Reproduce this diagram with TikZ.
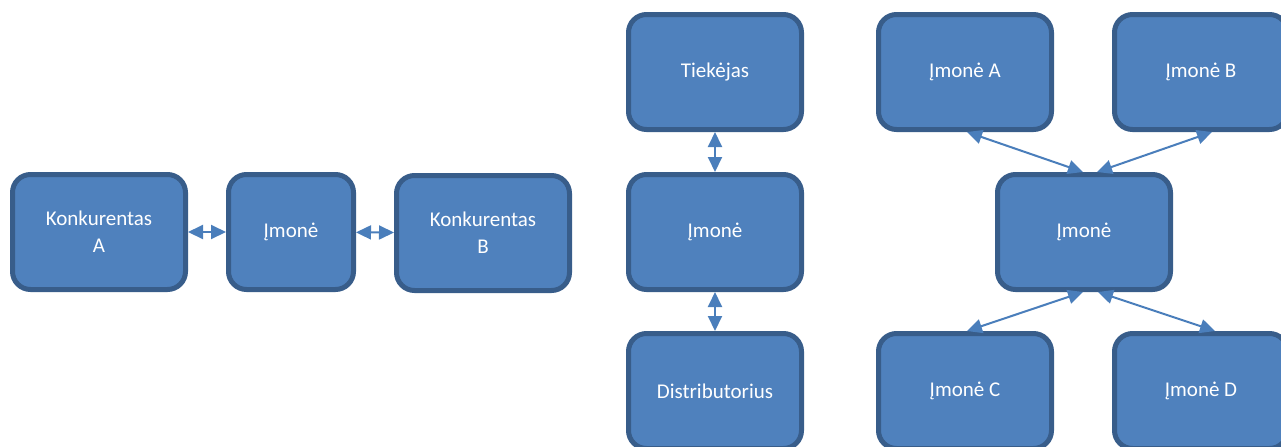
\documentclass[tikz,border=0pt]{standalone}
\usepackage{fontspec}
\setmainfont{Carlito}
\usetikzlibrary{arrows.meta}
\definecolor{boxfill}{HTML}{4F81BD}
\definecolor{boxline}{HTML}{385D8A}
\definecolor{arrowcol}{HTML}{4A7EBB}
\begin{document}
\begin{tikzpicture}[x=0.5pt, y=-0.5pt,
    every node/.style={font=\fontsize{10.5}{13.5}\selectfont},
    box/.style={draw=boxline, fill=boxfill, line width=2.5pt, rounded corners=9pt,
        text=white, align=center, minimum width=86.5pt, minimum height=57.5pt},
    link/.style={{Triangle[length=7.5pt, width=7pt]}-{Triangle[length=7.5pt, width=7pt]}, arrowcol, line width=1pt}]
    \useasboundingbox (0,0) rectangle (1281,446);

    % competitors
    \node[box] (ka) at (99,232) {Konkurentas\\A};
    \node[box, minimum width=62.5pt] (im1) at (291,232) {Įmonė};
    \node[box] (kb) at (483,233) {Konkurentas\\B};

    % supply chain
    \node[box] (tk) at (715,72) {Tiekėjas};
    \node[box] (im2) at (715,232) {Įmonė};
    \node[box] (ds) at (715,391) {Distributorius};

    % partners
    \node[box] (ia) at (965,72) {Įmonė A};
    \node[box] (ib) at (1201,72) {Įmonė B};
    \node[box] (im3) at (1084,232) {Įmonė};
    \node[box] (ic) at (965,391) {Įmonė C};
    \node[box] (id) at (1201,391) {Įmonė D};

    \draw[link] (ka) -- (im1);
    \draw[link] (im1) -- (kb);
    \draw[link] (tk) -- (im2);
    \draw[link] (im2) -- (ds);

    \draw[link] ([xshift=1pt]ia.south) -- ([xshift=-0.5pt]im3.north);
    \draw[link] ([xshift=5.5pt]ib.south) -- ([xshift=6.5pt]im3.north);
    \draw[link] ([xshift=-0.5pt]im3.south) -- ([xshift=1pt]ic.north);
    \draw[link] ([xshift=7pt]im3.south) -- ([xshift=7pt]id.north);
\end{tikzpicture}
\end{document}
